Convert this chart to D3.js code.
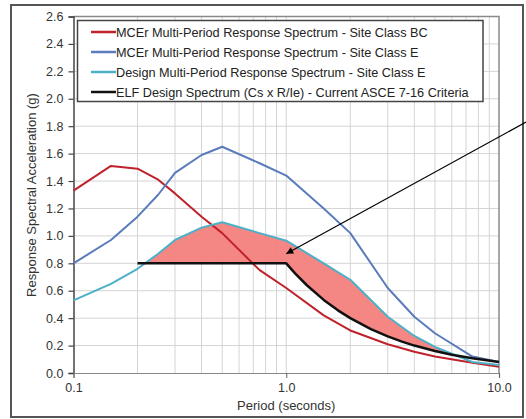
<!DOCTYPE html>
<html>
<head>
<meta charset="utf-8">
<script src="https://cdn.jsdelivr.net/npm/d3@7"></script>
<style>
  html, body { margin: 0; padding: 0; background: #fff; }
  svg { display: block; font-family: "Liberation Sans", Arial, sans-serif; }
</style>
</head>
<body>
<svg id="chart" width="526" height="419"></svg>
<script>
// Periods (s) where the multi-period spectra are defined
const periods = [0.1, 0.15, 0.2, 0.25, 0.3, 0.4, 0.5, 0.75, 1.0, 1.5, 2.0, 3.0, 4.0, 5.0, 7.5, 10.0];

// Spectral accelerations (g)
const mcerBC = [1.33, 1.51, 1.49, 1.41, 1.31, 1.14, 1.02, 0.75, 0.62, 0.42, 0.31, 0.21, 0.155, 0.12, 0.075, 0.046];
const mcerE  = [0.80, 0.97, 1.14, 1.30, 1.46, 1.59, 1.65, 1.53, 1.44, 1.20, 1.02, 0.62, 0.41, 0.29, 0.12, 0.08];
const designE = [0.53, 0.65, 0.76, 0.87, 0.97, 1.06, 1.10, 1.02, 0.965, 0.80, 0.68, 0.41, 0.27, 0.19, 0.08, 0.058];

// ELF design spectrum (Cs x R/Ie), ASCE 7-16
const elfPeriods = [0.2, 1.0, 1.1, 1.25, 1.5, 1.75, 2.0, 2.5, 3.0, 3.5, 4.0, 5.0, 6.0, 7.5, 10.0];
const elfValues  = [0.8, 0.8, 0.727, 0.64, 0.533, 0.457, 0.4, 0.32, 0.267, 0.229, 0.2, 0.16, 0.133, 0.107, 0.08];

// Axis ticks
const yTicks = [0.0, 0.2, 0.4, 0.6, 0.8, 1.0, 1.2, 1.4, 1.6, 1.8, 2.0, 2.2, 2.4, 2.6];
const xTickLabels = [0.1, 1.0, 10.0];
const xMinorGrid = [0.2, 0.3, 0.4, 0.5, 0.6, 0.7, 0.8, 0.9, 1, 2, 3, 4, 5, 6, 7, 8, 9];

// Legend entries
const legendLabels = [
  "MCEr Multi-Period Response Spectrum - Site Class BC",
  "MCEr Multi-Period Response Spectrum - Site Class E",
  "Design Multi-Period Response Spectrum - Site Class E",
  "ELF Design Spectrum (Cs x R/Ie) - Current ASCE 7-16 Criteria"
];
const seriesColors = ["#c0222c", "#5a7bbc", "#4cb0c8", "#111111"];

// Annotation arrow, in (period, acceleration) units
const arrowFrom = [13.4, 1.83];
const arrowTo = [1.0, 0.87];

const svg = d3.select("#chart");
const font = "Liberation Sans, Arial, sans-serif";

const x = d3.scaleLog().domain([0.1, 10]).range([73.5, 499]);
const y = d3.scaleLinear().domain([0, 2.6]).range([373, 16.5]);

// Outer frame
svg.append("rect")
  .attr("x", 11).attr("y", 5).attr("width", 512).attr("height", 412)
  .attr("fill", "#fff").attr("stroke", "#555").attr("stroke-width", 2);

// Gridlines
const grid = svg.append("g");
grid.selectAll("line.h").data(yTicks.slice(1)).join("line")
  .attr("x1", x(0.1)).attr("x2", x(10))
  .attr("y1", d => y(d)).attr("y2", d => y(d))
  .attr("stroke", "#d4d4d4").attr("stroke-width", 1);
grid.selectAll("line.v").data(xMinorGrid).join("line")
  .attr("x1", d => x(d)).attr("x2", d => x(d))
  .attr("y1", y(0)).attr("y2", y(2.6))
  .attr("stroke", "#d4d4d4").attr("stroke-width", 1);

// Plot border (top and right)
svg.append("path")
  .attr("d", `M${x(0.1)},${y(2.6)}H${x(10)}V${y(0)}`)
  .attr("fill", "none").attr("stroke", "#8a8a8a").attr("stroke-width", 1.5);

// Shaded area between the design spectrum and the ELF spectrum
const designPts = periods.map((p, i) => [p, designE[i]]);
const elfPts = elfPeriods.map((p, i) => [p, elfValues[i]]);

const defs = svg.append("defs");
defs.append("clipPath").attr("id", "aboveElf")
  .append("path")
  .attr("d", d3.area().x(d => x(d[0])).y0(y(2.6)).y1(d => y(d[1]))(elfPts));

svg.append("path")
  .attr("clip-path", "url(#aboveElf)")
  .attr("d", d3.area().x(d => x(d[0])).y0(y(0)).y1(d => y(d[1]))(designPts))
  .attr("fill", "#f3807c").attr("opacity", 0.95);

// Axes
const yAxis = svg.append("g")
  .attr("transform", `translate(${x(0.1)},0)`)
  .call(d3.axisLeft(y).tickValues(yTicks).tickSize(5).tickPadding(5).tickFormat(d3.format(".1f")));
yAxis.select(".domain").attr("stroke", "#444").attr("stroke-width", 1.5);
yAxis.selectAll(".tick line").attr("stroke", "#444").attr("stroke-width", 1.2);
yAxis.selectAll(".tick text").attr("font-size", 12.5).attr("fill", "#333").attr("font-family", font);

const xAxis = svg.append("g")
  .attr("transform", `translate(0,${y(0)})`)
  .call(d3.axisBottom(x).tickValues(xTickLabels).tickSize(5).tickPadding(5).tickFormat(d3.format(".1f")));
xAxis.select(".domain").attr("stroke", "#888").attr("stroke-width", 1.2);
xAxis.selectAll(".tick line").attr("stroke", "#666");
xAxis.selectAll(".tick text").attr("font-size", 12.5).attr("fill", "#333").attr("font-family", font);

// Series lines
const line = d3.line().x(d => x(d[0])).y(d => y(d[1]));
const series = [
  periods.map((p, i) => [p, mcerBC[i]]),
  periods.map((p, i) => [p, mcerE[i]]),
  designPts,
  elfPts
];
series.forEach((pts, i) => {
  svg.append("path")
    .attr("d", line(pts))
    .attr("fill", "none")
    .attr("stroke", seriesColors[i])
    .attr("stroke-width", i === 3 ? 2.5 : 2)
    .attr("stroke-linejoin", "round");
});

// Axis titles
svg.append("text")
  .attr("transform", "translate(36,195) rotate(-90)")
  .attr("text-anchor", "middle").attr("font-size", 13).attr("fill", "#333")
  .text("Response Spectral Acceleration (g)");
svg.append("text")
  .attr("x", x(1)).attr("y", 410)
  .attr("text-anchor", "middle").attr("font-size", 13).attr("fill", "#333")
  .text("Period (seconds)");

// Legend
const legend = svg.append("g");
legend.append("rect")
  .attr("x", 77.5).attr("y", 20.5).attr("width", 405.5).attr("height", 81)
  .attr("fill", "#fff").attr("stroke", "#444").attr("stroke-width", 1.5);
legendLabels.forEach((lab, i) => {
  const ly = 32 + i * 20;
  legend.append("line")
    .attr("x1", 91).attr("x2", 116).attr("y1", ly).attr("y2", ly)
    .attr("stroke", seriesColors[i]).attr("stroke-width", 2.5);
  legend.append("text")
    .attr("x", 116).attr("y", ly + 4.5)
    .attr("font-size", 12.7).attr("fill", "#222")
    .text(lab);
});

// Annotation arrow
defs.append("marker")
  .attr("id", "arrowHead")
  .attr("viewBox", "0 0 10 10")
  .attr("refX", 10).attr("refY", 5)
  .attr("markerWidth", 9).attr("markerHeight", 7)
  .attr("markerUnits", "userSpaceOnUse")
  .attr("orient", "auto")
  .append("path").attr("d", "M0,0L10,5L0,10Z").attr("fill", "#000");
svg.append("line")
  .attr("x1", x(arrowFrom[0])).attr("y1", y(arrowFrom[1]))
  .attr("x2", x(arrowTo[0])).attr("y2", y(arrowTo[1]))
  .attr("stroke", "#000").attr("stroke-width", 1.2)
  .attr("marker-end", "url(#arrowHead)");
</script>
</body>
</html>
